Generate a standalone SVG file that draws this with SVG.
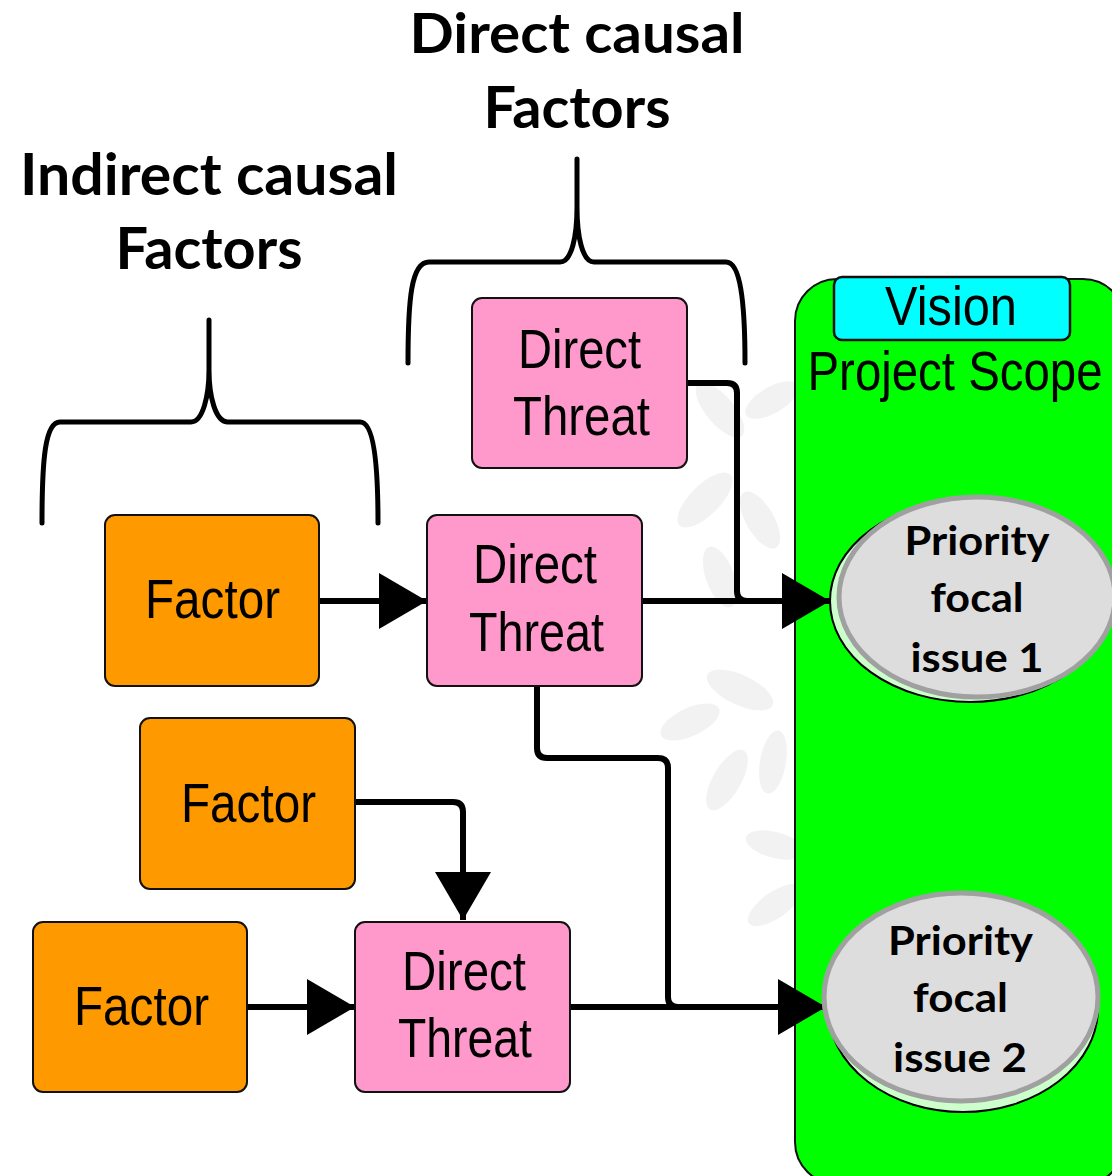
<svg xmlns="http://www.w3.org/2000/svg" width="1112" height="1176" viewBox="0 0 1112 1176">
<defs>
<style>
.box{stroke:#111;stroke-width:2}
.fac{fill:#FF9900}
.thr{fill:#FF99CC}
.t{font-family:"Liberation Sans",Arial,sans-serif;font-size:55px;fill:#000;text-anchor:middle}
.b{font-family:Lato,"Liberation Sans",sans-serif;font-weight:bold;fill:#000;text-anchor:middle}
.con{fill:none;stroke:#000;stroke-width:6;stroke-linejoin:round}
.brace{fill:none;stroke:#000;stroke-width:5;stroke-linecap:round}
.leaf{fill:#f2f2f2}
</style>
<marker id="ah" markerUnits="userSpaceOnUse" markerWidth="48" markerHeight="56" refX="48" refY="28" orient="auto" viewBox="0 0 48 56">
<path d="M0,0 L48,28 L0,56 z" fill="#000"/>
</marker>
</defs>
<rect width="1112" height="1176" fill="#fff"/>
<g id="watermark">
<ellipse class="leaf" cx="720" cy="410" rx="34" ry="14" transform="rotate(50 720 410)"/>
<ellipse class="leaf" cx="772" cy="400" rx="30" ry="13" transform="rotate(-30 772 400)"/>
<ellipse class="leaf" cx="705" cy="500" rx="36" ry="15" transform="rotate(-45 705 500)"/>
<ellipse class="leaf" cx="760" cy="520" rx="32" ry="14" transform="rotate(60 760 520)"/>
<ellipse class="leaf" cx="720" cy="577" rx="32" ry="14" transform="rotate(70 720 577)"/>
<ellipse class="leaf" cx="740" cy="690" rx="36" ry="15" transform="rotate(25 740 690)"/>
<ellipse class="leaf" cx="690" cy="722" rx="32" ry="14" transform="rotate(-25 690 722)"/>
<ellipse class="leaf" cx="727" cy="780" rx="34" ry="14" transform="rotate(-60 727 780)"/>
<ellipse class="leaf" cx="773" cy="762" rx="32" ry="13" transform="rotate(-80 773 762)"/>
<ellipse class="leaf" cx="775" cy="845" rx="30" ry="13" transform="rotate(15 775 845)"/>
<ellipse class="leaf" cx="775" cy="905" rx="32" ry="13" transform="rotate(-35 775 905)"/>
</g>
<g id="titles">
<text class="b" x="577" y="53" font-size="56" textLength="335" lengthAdjust="spacingAndGlyphs">Direct causal</text>
<text class="b" x="577" y="128" font-size="58" textLength="187" lengthAdjust="spacingAndGlyphs">Factors</text>
<text class="b" x="209" y="195" font-size="58" textLength="378" lengthAdjust="spacingAndGlyphs">Indirect causal</text>
<text class="b" x="209" y="269" font-size="58" textLength="187" lengthAdjust="spacingAndGlyphs">Factors</text>
</g>
<g id="braces">
<path class="brace" d="M408,363 C408,300 411,262 429,262 L560,262 C572,262 577,235 577,207 L577,159 M577,207 C577,235 582,262 594,262 L726,262 C740,262 745,300 745,363"/>
<path class="brace" d="M42,523 C42,460 45,422 60,422 L191,422 C203,422 209,395 209,370 L209,320 M209,370 C209,395 215,422 228,422 L360,422 C373,422 378,460 378,523"/>
</g>
<g id="scope">
<rect x="795" y="279" width="330" height="905" rx="42" fill="#00FF00" stroke="#111" stroke-width="2"/>
<text class="t" x="955" y="390" font-size="53" textLength="295" lengthAdjust="spacingAndGlyphs">Project Scope</text>
</g>
<g id="vision">
<rect x="834" y="277" width="236" height="63" rx="8" fill="#00FFFF" stroke="#111" stroke-width="2.5"/>
<text class="t" x="951" y="325" font-size="54" textLength="132" lengthAdjust="spacingAndGlyphs">Vision</text>
</g>
<g id="connectors">
<path class="con" d="M319,601 L427,601" marker-end="url(#ah)"/>
<path class="con" d="M355,802 L453,802 Q463,802 463,812 L463,920" marker-end="url(#ah)"/>
<path class="con" d="M247,1007 L355,1007" marker-end="url(#ah)"/>
<path class="con" d="M687,383 L727,383 Q737,383 737,393 L737,591 Q737,601 747,601"/>
<path class="con" d="M642,601 L830,601" marker-end="url(#ah)"/>
<path class="con" d="M537,686 L537,748 Q537,758 547,758 L658,758 Q668,758 668,768 L668,997 Q668,1007 678,1007"/>
<path class="con" d="M570,1007 L826,1007" marker-end="url(#ah)"/>
</g>
<g id="threat-top">
<rect class="box thr" x="472" y="298" width="215" height="170" rx="10"/>
<text class="t" x="579.5" y="368" textLength="123" lengthAdjust="spacingAndGlyphs">Direct</text>
<text class="t" x="581.5" y="435" textLength="137" lengthAdjust="spacingAndGlyphs">Threat</text>
</g>
<g id="threat-mid">
<rect class="box thr" x="427" y="515" width="215" height="171" rx="10"/>
<text class="t" x="535" y="583" textLength="124" lengthAdjust="spacingAndGlyphs">Direct</text>
<text class="t" x="536.5" y="651" textLength="135" lengthAdjust="spacingAndGlyphs">Threat</text>
</g>
<g id="threat-bot">
<rect class="box thr" x="355" y="922" width="215" height="170" rx="10"/>
<text class="t" x="464" y="990" textLength="124" lengthAdjust="spacingAndGlyphs">Direct</text>
<text class="t" x="465" y="1057" textLength="134" lengthAdjust="spacingAndGlyphs">Threat</text>
</g>
<g id="factor-1">
<rect class="box fac" x="105" y="515" width="214" height="171" rx="10"/>
<text class="t" x="212.5" y="618" textLength="135" lengthAdjust="spacingAndGlyphs">Factor</text>
</g>
<g id="factor-2">
<rect class="box fac" x="140" y="718" width="215" height="171" rx="10"/>
<text class="t" x="248.5" y="822" textLength="135" lengthAdjust="spacingAndGlyphs">Factor</text>
</g>
<g id="factor-3">
<rect class="box fac" x="33" y="922" width="214" height="170" rx="10"/>
<text class="t" x="141.5" y="1025" textLength="135" lengthAdjust="spacingAndGlyphs">Factor</text>
</g>
<g id="issue-1">
<ellipse cx="970" cy="601" rx="140" ry="101" fill="#CCFFCC" stroke="#000" stroke-width="2"/>
<ellipse cx="977" cy="597" rx="138" ry="100" fill="#DDDDDD" stroke="#A0A0A0" stroke-width="5"/>
<text class="b" x="977" y="555" font-size="40" textLength="145" lengthAdjust="spacingAndGlyphs">Priority</text>
<text class="b" x="977" y="612" font-size="40" textLength="93" lengthAdjust="spacingAndGlyphs">focal</text>
<text class="b" x="977" y="672" font-size="40" textLength="133" lengthAdjust="spacingAndGlyphs">issue 1</text>
</g>
<g id="issue-2">
<ellipse cx="963" cy="1008" rx="135" ry="104" fill="#CCFFCC" stroke="#000" stroke-width="2"/>
<ellipse cx="961" cy="997" rx="137" ry="104" fill="#DDDDDD" stroke="#A0A0A0" stroke-width="5"/>
<text class="b" x="960.5" y="955" font-size="40" textLength="145" lengthAdjust="spacingAndGlyphs">Priority</text>
<text class="b" x="960.5" y="1012" font-size="40" textLength="95" lengthAdjust="spacingAndGlyphs">focal</text>
<text class="b" x="960" y="1072" font-size="40" textLength="134" lengthAdjust="spacingAndGlyphs">issue 2</text>
</g>
</svg>
